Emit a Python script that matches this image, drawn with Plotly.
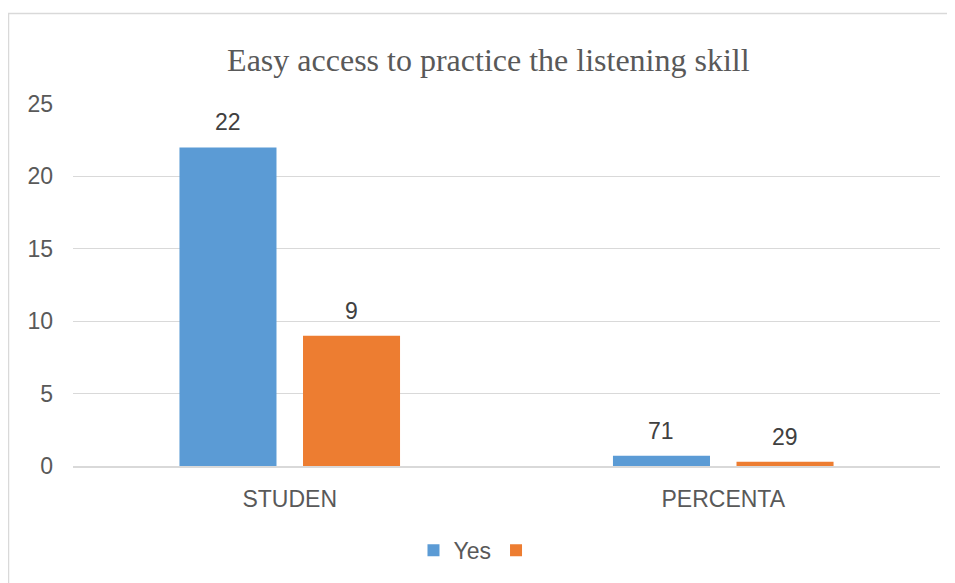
import plotly.graph_objects as go

categories = ["STUDEN", "PERCENTA"]
yes_values = [22, 0.71]
yes_labels = ["22", "71"]
other_values = [9, 0.29]
other_labels = ["9", "29"]
series_names = ["Yes", " "]
title_text = "Easy access to practice the listening skill"
y_ticks = [0, 5, 10, 15, 20, 25]

W, H = 955, 583
ML, MR, MT, MB = 65, 23, 96, 124.5
BARGAP = 0.43
plot_w = W - ML - MR
slot = plot_w / len(categories) * (1 - BARGAP) / 2
label_font = dict(family="Liberation Sans", size=23, color="#404040")

fig = go.Figure()
fig.add_trace(go.Bar(x=categories, y=yes_values, name=series_names[0],
                     marker_color="#5B9BD5", marker_line_width=0))
fig.add_trace(go.Bar(x=categories, y=other_values, name=series_names[1],
                     marker_color="#ED7D31", marker_line_width=0))

annotations = []
for vals, labs, sign in ((yes_values, yes_labels, -1), (other_values, other_labels, 1)):
    for c, v, t in zip(categories, vals, labs):
        annotations.append(dict(x=c, y=v, xref="x", yref="y", text=t, showarrow=False,
                                xanchor="center", yanchor="middle",
                                xshift=sign * slot / 2, yshift=25, font=label_font))

fig.update_layout(
    width=W, height=H,
    margin=dict(l=ML, r=MR, t=MT, b=MB),
    paper_bgcolor="white", plot_bgcolor="white",
    barmode="group", bargap=BARGAP, bargroupgap=0.2146,
    font=dict(family="Liberation Sans", color="#595959", size=23),
    title=dict(text=title_text, x=0.503, xanchor="center", y=1 - 52 / H, yanchor="middle",
               font=dict(family="Liberation Serif", size=32, color="#595959")),
    legend=dict(orientation="h", x=0.47, xanchor="center", y=-0.233, yanchor="middle",
                font=dict(size=23, color="#595959"), itemwidth=30, traceorder="normal"),
    xaxis=dict(showgrid=False, showline=True, linecolor="#D9D9D9", linewidth=1.5,
               ticks="", ticklabelstandoff=12, tickfont=dict(size=23, color="#595959")),
    yaxis=dict(range=[0, 25], tickvals=y_ticks, showgrid=True, gridcolor="#D9D9D9",
               gridwidth=1.2, zeroline=False, showline=False, ticks="",
               ticklabelstandoff=19, tickfont=dict(size=23, color="#595959")),
    annotations=annotations,
    shapes=[dict(type="rect", xref="paper", yref="paper", x0=-0.0744, x1=1.2,
                 y0=-0.6, y1=1.2497, line=dict(color="#D9D9D9", width=1.5),
                 fillcolor="rgba(0,0,0,0)", layer="below")],
)

fig.write_html("out.html")
